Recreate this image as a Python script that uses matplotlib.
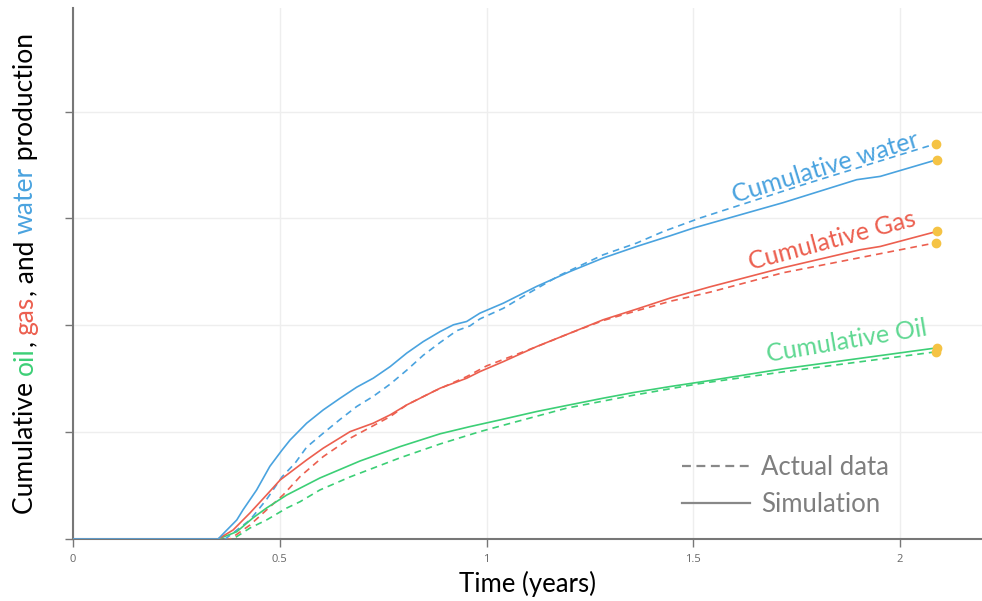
import matplotlib
matplotlib.use("Agg")
import matplotlib.pyplot as plt
from matplotlib.lines import Line2D
from matplotlib.font_manager import FontProperties

# Cumulative production vs. time (years); volumes in normalized units
water_sim_t = [0.0, 0.351, 0.368, 0.396, 0.411, 0.444, 0.476, 0.505, 0.525, 0.565, 0.605, 0.646,
               0.686, 0.726, 0.767, 0.807, 0.847, 0.888, 0.920, 0.952, 0.984, 1.041, 1.121, 1.202,
               1.282, 1.363, 1.444, 1.500, 1.717, 1.895, 1.952, 2.089]
water_sim_v = [0.0, 0.0, 0.068, 0.178, 0.272, 0.459, 0.680, 0.830, 0.927, 1.084, 1.208, 1.318,
               1.421, 1.505, 1.614, 1.740, 1.848, 1.942, 2.005, 2.036, 2.114, 2.208, 2.364, 2.504,
               2.630, 2.738, 2.838, 2.910, 3.148, 3.363, 3.394, 3.550]

water_act_t = [0.0, 0.368, 0.428, 0.468, 0.505, 0.537, 0.565, 0.605, 0.646, 0.686, 0.726, 0.767,
               0.807, 0.847, 0.888, 0.928, 0.960, 0.984, 1.041, 1.097, 1.178, 1.282, 1.363, 1.428,
               1.516, 1.758, 2.087]
water_act_v = [0.0, 0.0, 0.178, 0.370, 0.580, 0.710, 0.860, 0.990, 1.120, 1.240, 1.335, 1.450,
               1.580, 1.720, 1.840, 1.950, 1.995, 2.060, 2.160, 2.290, 2.470, 2.660, 2.770, 2.879,
               3.004, 3.307, 3.700]

gas_sim_t = [0.0, 0.351, 0.387, 0.428, 0.468, 0.501, 0.565, 0.605, 0.670, 0.726, 0.767, 0.807,
             0.888, 0.952, 0.984, 1.041, 1.121, 1.202, 1.282, 1.363, 1.444, 1.540, 1.717, 1.903,
             1.952, 2.089]
gas_sim_v = [0.0, 0.0, 0.084, 0.244, 0.412, 0.553, 0.740, 0.850, 1.005, 1.084, 1.162, 1.255,
             1.412, 1.505, 1.567, 1.661, 1.801, 1.927, 2.052, 2.152, 2.255, 2.360, 2.539, 2.707,
             2.738, 2.879]

gas_act_t = [0.0, 0.380, 0.428, 0.468, 0.508, 0.549, 0.605, 0.670, 0.767, 0.807, 0.871, 0.952,
             1.000, 1.121, 1.202, 1.282, 1.363, 1.444, 1.540, 1.717, 2.087]
gas_act_v = [0.0, 0.0, 0.131, 0.272, 0.412, 0.584, 0.771, 0.943, 1.146, 1.255, 1.380, 1.520,
             1.620, 1.800, 1.927, 2.045, 2.136, 2.225, 2.310, 2.492, 2.773]

oil_sim_t = [0.0, 0.351, 0.396, 0.435, 0.468, 0.517, 0.597, 0.694, 0.791, 0.888, 0.960, 1.033,
             1.121, 1.194, 1.282, 1.354, 1.444, 1.540, 1.717, 2.089]
oil_sim_v = [0.0, 0.0, 0.068, 0.197, 0.290, 0.412, 0.571, 0.730, 0.865, 0.985, 1.052, 1.115,
             1.193, 1.250, 1.318, 1.370, 1.427, 1.483, 1.593, 1.789]

oil_act_t = [0.0, 0.387, 0.428, 0.468, 0.517, 0.549, 0.597, 0.670, 0.791, 0.888, 0.984, 1.074,
             1.194, 1.354, 1.516, 1.717, 2.087]
oil_act_v = [0.0, 0.0, 0.103, 0.178, 0.290, 0.349, 0.459, 0.581, 0.760, 0.890, 1.005, 1.100,
             1.225, 1.345, 1.455, 1.564, 1.752]

x_ticks = [0, 0.5, 1, 1.5, 2]
x_tick_labels = ["0", "0.5", "1", "1.5", "2"]
y_ticks = [0, 1, 2, 3, 4]

BLUE = "#4aa3df"
RED = "#ec5f4f"
GREEN = "#3ccf76"
GREEN_TEXT = "#5fd892"
DOT = "#f5c344"
AXIS = "#777777"
FONT = "Lato"

fig = plt.figure(figsize=(9.82, 6.01), dpi=100)
ax = fig.add_axes([73 / 982, 62 / 601, 909 / 982, 531 / 601])

lw = 1.2
dash = (4, 3)
ax.plot(oil_act_t, oil_act_v, color=GREEN, lw=lw, dashes=dash, zorder=3)
ax.plot(gas_act_t, gas_act_v, color=RED, lw=lw, dashes=dash, zorder=3)
ax.plot(water_act_t, water_act_v, color=BLUE, lw=lw, dashes=dash, zorder=3)
ax.plot(oil_sim_t, oil_sim_v, color=GREEN, lw=lw, zorder=4)
ax.plot(gas_sim_t, gas_sim_v, color=RED, lw=lw, zorder=4)
ax.plot(water_sim_t, water_sim_v, color=BLUE, lw=lw, zorder=5)

# end-point markers
end_t = [water_sim_t[-1], water_act_t[-1], gas_sim_t[-1], gas_act_t[-1], oil_sim_t[-1], oil_act_t[-1]]
end_v = [water_sim_v[-1], water_act_v[-1], gas_sim_v[-1], gas_act_v[-1], oil_sim_v[-1], oil_act_v[-1]]
ax.plot(end_t, end_v, ls="none", marker="o", ms=6, color=DOT, mec=DOT, zorder=6)

ax.set_xlim(0, 2.198)
ax.set_ylim(0, 4.97)
ax.set_xticks(x_ticks)
ax.set_xticklabels(x_tick_labels)
ax.set_yticks(y_ticks)
ax.set_yticklabels([])
ax.tick_params(axis="both", direction="out", length=6, width=1, color=AXIS,
               labelsize=8, labelcolor="#666666", pad=5)
for lbl in ax.get_xticklabels():
    lbl.set_fontfamily("Open Sans")

for s in ["top", "right"]:
    ax.spines[s].set_visible(False)
for s in ["left", "bottom"]:
    ax.spines[s].set_color(AXIS)
    ax.spines[s].set_linewidth(1.5)
ax.grid(True, color="#eeeeee", lw=1, zorder=0)
ax.set_axisbelow(True)

ax.set_xlabel("Time (years)", fontsize=18.5, fontfamily=FONT, color="black", labelpad=4)

# series annotations
ann_size = 18
ax.text(1.82, 3.48, "Cumulative water", color=BLUE, fontsize=ann_size, fontfamily=FONT,
        rotation=17, ha="center", va="center", rotation_mode="anchor")
ax.text(1.835, 2.79, "Cumulative Gas", color=RED, fontsize=ann_size, fontfamily=FONT,
        rotation=15, ha="center", va="center", rotation_mode="anchor")
ax.text(1.87, 1.855, "Cumulative Oil", color=GREEN_TEXT, fontsize=ann_size, fontfamily=FONT,
        rotation=9.5, ha="center", va="center", rotation_mode="anchor")

# legend for line styles
handles = [Line2D([], [], color="#888888", lw=1.6, dashes=(4, 2.5)),
           Line2D([], [], color="#888888", lw=1.6)]
ax.legend(handles, ["Actual data", "Simulation"], loc="upper left",
          bbox_to_anchor=(0.670, 0.158), frameon=False, prop={"family": FONT, "size": 18.5},
          labelcolor="#7f7f7f", handlelength=2.65, handletextpad=0.43, labelspacing=0.45,
          borderaxespad=0, borderpad=0)

# multicolour y-axis title
fig.canvas.draw()
renderer = fig.canvas.get_renderer()
fp = FontProperties(family=FONT, size=19)
pieces = [("Cumulative ", "black"), ("oil", GREEN), (", ", "black"), ("gas", RED),
          (", and ", "black"), ("water", BLUE), (" production", "black")]


def text_len(s):
    w1, _, _ = renderer.get_text_width_height_descent(s + "|", fp, ismath=False)
    w2, _, _ = renderer.get_text_width_height_descent("|", fp, ismath=False)
    return w1 - w2


full = "".join(p for p, _ in pieces)
H = fig.bbox.height
total = text_len(full)
y_center = 601 - 273.5
start = y_center - total / 2
prefix = ""
for s, c in pieces:
    y0 = start + text_len(prefix)
    fig.text(33 / 982, y0 / H, s, color=c, fontproperties=fp, rotation=90,
             rotation_mode="anchor", ha="left", va="baseline")
    prefix += s

fig.savefig("out.png", dpi=100)
